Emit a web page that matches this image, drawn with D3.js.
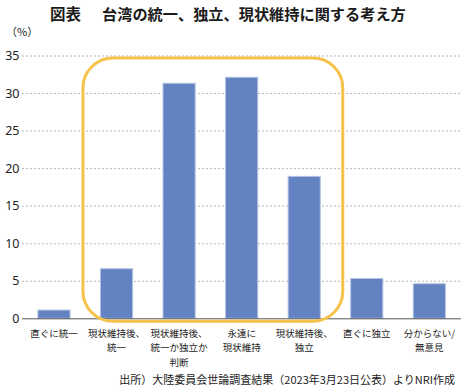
<!DOCTYPE html>
<html><head><meta charset="utf-8">
<script src="https://cdn.jsdelivr.net/npm/d3@7"></script>
<style>
html,body{margin:0;padding:0;background:#fff;}
svg{display:block;font-family:"Noto Sans CJK JP","Noto Sans",sans-serif;}
</style></head>
<body>
<svg id="c" width="465" height="388"></svg>
<script>
const categories = [
  ["直ぐに統一"],
  ["現状維持後、", "統一"],
  ["現状維持後、", "統一か独立か", "判断"],
  ["永遠に", "現状維持"],
  ["現状維持後、", "独立"],
  ["直ぐに独立"],
  ["分からない/", "無意見"]
];
const values = [1.1, 6.6, 31.3, 32.1, 18.9, 5.3, 4.6];
const yTicks = [0, 5, 10, 15, 20, 25, 30, 35];
const titleMain = "台湾の統一、独立、現状維持に関する考え方";
const titleLabel = "図表";
const unitLabel = "（%）";
const sourceText = "出所）大陸委員会世論調査結果（2023年3月23日公表）よりNRI作成";
const highlighted = [1, 4]; // first and last index of highlighted group

const svg = d3.select("#c");
const keys = categories.map((c, i) => i);
const x = d3.scaleBand().domain(keys).range([22.7, 460.6]).paddingInner(0.47).paddingOuter(0.235);
const y = d3.scaleLinear().domain([0, 35]).range([318.3, 55.5]);

// title
svg.append("text").attr("x", 50).attr("y", 20).attr("font-size", 15.5).attr("font-weight", "bold").attr("fill", "#1a1a1a").text(titleLabel);
svg.append("text").attr("x", 102).attr("y", 20).attr("font-size", 15.2).attr("font-weight", "bold").attr("fill", "#1a1a1a").text(titleMain);
svg.append("text").attr("x", 6).attr("y", 36).attr("font-size", 11).attr("fill", "#222").text(unitLabel);

// gridlines
svg.append("g").selectAll("line").data(yTicks.filter(d => d > 0)).join("line")
  .attr("x1", 22).attr("x2", 461).attr("y1", d => y(d) + 0.5).attr("y2", d => y(d) + 0.5)
  .attr("stroke", "#b8b8b8").attr("stroke-width", 1).attr("stroke-dasharray", "2,2");

// y axis labels
const yAxis = d3.axisLeft(y).tickValues(yTicks).tickSize(0).tickPadding(0);
const ga = svg.append("g").attr("transform", "translate(19.5,0)").call(yAxis);
ga.select(".domain").remove();
ga.selectAll("text").attr("font-size", 12.5).attr("fill", "#222").attr("font-family", "'Liberation Sans Narrow','Noto Sans',sans-serif");

// bars
svg.append("g").selectAll("rect").data(values).join("rect")
  .attr("x", (d, i) => x(i) + 0.5).attr("width", x.bandwidth() - 1)
  .attr("y", d => y(d)).attr("height", d => y(0) - y(d))
  .attr("fill", "#6382c1").attr("stroke", "#b4c3e4").attr("stroke-width", 1);

// baseline
svg.append("line").attr("x1", 22).attr("x2", 461).attr("y1", y(0) + 0.5).attr("y2", y(0) + 0.5)
  .attr("stroke", "#555").attr("stroke-width", 1);

// highlight box
const bx0 = x(highlighted[0]) - 17, bx1 = x(highlighted[1]) + x.bandwidth() + 22;
const by0 = y(35) + 2.5, by1 = y(0) + 3;
svg.append("rect").attr("x", bx0).attr("y", by0).attr("width", bx1 - bx0).attr("height", by1 - by0)
  .attr("rx", 30).attr("ry", 30).attr("fill", "none").attr("stroke", "#f6c24a").attr("stroke-width", 3);

// category labels
const gl = svg.append("g");
categories.forEach((lines, i) => {
  const t = gl.append("text").attr("text-anchor", "middle").attr("font-size", 9.5).attr("fill", "#222");
  lines.forEach((ln, j) => {
    t.append("tspan").attr("x", x(i) + x.bandwidth() / 2).attr("y", 336.5 + j * 14.5).text(ln);
  });
});

// source
svg.append("text").attr("x", 455).attr("y", 384).attr("text-anchor", "end").attr("font-size", 11).attr("fill", "#222").text(sourceText);
</script>
</body></html>
